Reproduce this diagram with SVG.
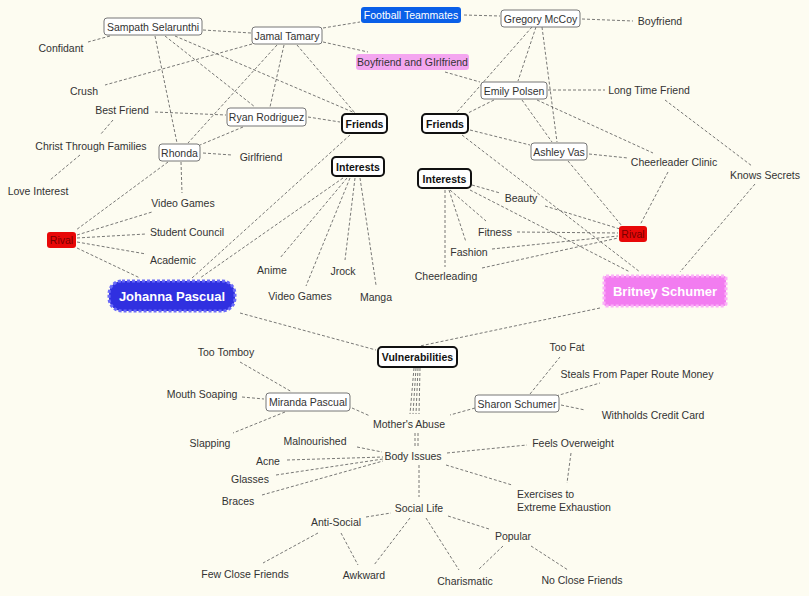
<svg xmlns="http://www.w3.org/2000/svg" width="809" height="596" viewBox="0 0 809 596">
<style>
text{font-family:"Liberation Sans",Arial,sans-serif;font-size:10.5px;fill:#333;text-anchor:middle;dominant-baseline:central}
.n{fill:#fff;stroke:#777;stroke-width:1}
.b{fill:#fff;stroke:#111;stroke-width:2}
.bt{font-weight:bold;fill:#111}
#edges line{stroke:#555;stroke-width:0.8;stroke-dasharray:3,2;fill:none}
</style>
<rect width="809" height="596" fill="#fdfcf1"/>
<g id="edges">
<line x1="203" y1="30" x2="251" y2="33"/><line x1="110" y1="36" x2="88" y2="42"/>
<line x1="155" y1="36" x2="177" y2="143"/><line x1="165" y1="36" x2="255" y2="107"/>
<line x1="175" y1="36" x2="355" y2="113"/><line x1="323" y1="28" x2="360" y2="22"/>
<line x1="323" y1="42" x2="368" y2="52"/><line x1="252" y1="44" x2="105" y2="85"/>
<line x1="277" y1="45" x2="188" y2="143"/><line x1="284" y1="45" x2="270" y2="107"/>
<line x1="297" y1="45" x2="355" y2="113"/><line x1="464" y1="15" x2="500" y2="16"/>
<line x1="582" y1="19" x2="633" y2="21"/><line x1="536" y1="27" x2="518" y2="81"/>
<line x1="532" y1="27" x2="457" y2="112"/><line x1="542" y1="27" x2="557" y2="142"/>
<line x1="445" y1="72" x2="480" y2="82"/><line x1="548" y1="90" x2="605" y2="90"/>
<line x1="494" y1="100" x2="468" y2="113"/><line x1="522" y1="100" x2="552" y2="142"/>
<line x1="537" y1="100" x2="653" y2="153"/><line x1="665" y1="100" x2="752" y2="166"/>
<line x1="470" y1="130" x2="530" y2="145"/><line x1="462" y1="135" x2="640" y2="272"/>
<line x1="589" y1="154" x2="628" y2="158"/><line x1="568" y1="161" x2="622" y2="226"/>
<line x1="668" y1="172" x2="640" y2="225"/><line x1="755" y1="184" x2="680" y2="272"/>
<line x1="472" y1="185" x2="500" y2="193"/><line x1="450" y1="190" x2="486" y2="221"/>
<line x1="449" y1="190" x2="466" y2="242"/><line x1="445" y1="190" x2="445" y2="267"/>
<line x1="470" y1="190" x2="630" y2="272"/><line x1="545" y1="206" x2="620" y2="229"/>
<line x1="517" y1="232" x2="618" y2="233"/><line x1="492" y1="249" x2="618" y2="236"/>
<line x1="482" y1="268" x2="618" y2="238"/><line x1="308" y1="117" x2="340" y2="122"/>
<line x1="350" y1="135" x2="192" y2="278"/><line x1="155" y1="112" x2="226" y2="115"/>
<line x1="243" y1="127" x2="200" y2="145"/><line x1="203" y1="153" x2="232" y2="155"/>
<line x1="181" y1="162" x2="182" y2="193"/><line x1="168" y1="162" x2="76" y2="230"/>
<line x1="113" y1="120" x2="100" y2="135"/><line x1="80" y1="155" x2="50" y2="180"/>
<line x1="77" y1="235" x2="152" y2="212"/><line x1="77" y1="238" x2="146" y2="234"/>
<line x1="77" y1="242" x2="146" y2="254"/><line x1="77" y1="248" x2="140" y2="278"/>
<line x1="343" y1="178" x2="200" y2="278"/><line x1="347" y1="178" x2="280" y2="258"/>
<line x1="350" y1="178" x2="306" y2="286"/><line x1="355" y1="178" x2="345" y2="260"/>
<line x1="360" y1="178" x2="376" y2="285"/><line x1="240" y1="313" x2="376" y2="350"/>
<line x1="600" y1="308" x2="420" y2="346"/>
<line x1="414" y1="368" x2="410" y2="414"/><line x1="416" y1="368" x2="413" y2="414"/>
<line x1="418" y1="368" x2="416" y2="414"/><line x1="420" y1="368" x2="419" y2="414"/>
<line x1="415" y1="433" x2="415" y2="447"/><line x1="418" y1="433" x2="418" y2="447"/>
<line x1="240" y1="362" x2="292" y2="392"/><line x1="242" y1="397" x2="264" y2="399"/>
<line x1="285" y1="412" x2="233" y2="433"/><line x1="352" y1="408" x2="370" y2="416"/>
<line x1="475" y1="408" x2="450" y2="415"/><line x1="530" y1="394" x2="560" y2="357"/>
<line x1="556" y1="396" x2="600" y2="383"/><line x1="561" y1="405" x2="585" y2="410"/>
<line x1="357" y1="447" x2="382" y2="452"/><line x1="287" y1="460" x2="383" y2="457"/>
<line x1="276" y1="475" x2="383" y2="459"/><line x1="262" y1="495" x2="383" y2="461"/>
<line x1="447" y1="453" x2="527" y2="445"/><line x1="446" y1="465" x2="512" y2="485"/>
<line x1="571" y1="453" x2="567" y2="483"/><line x1="419" y1="465" x2="419" y2="497"/>
<line x1="366" y1="517" x2="391" y2="513"/><line x1="318" y1="533" x2="263" y2="563"/>
<line x1="341" y1="533" x2="358" y2="565"/><line x1="410" y1="518" x2="374" y2="565"/>
<line x1="426" y1="518" x2="459" y2="570"/><line x1="448" y1="516" x2="489" y2="529"/>
<line x1="503" y1="546" x2="478" y2="570"/><line x1="531" y1="546" x2="568" y2="570"/>
</g>
<g id="sampath"><rect class="n" x="104" y="18" width="98" height="17" rx="3"/><text x="153" y="26.5">Sampath Selarunthi</text></g>
<g id="jamal"><rect class="n" x="252" y="27" width="70" height="17" rx="3"/><text x="287" y="35.5">Jamal Tamary</text></g>
<g id="football"><rect x="361" y="7" width="100" height="16" rx="3" fill="#0a5fe8"/><text x="411" y="15" style="fill:#fff">Football Teammates</text></g>
<g id="gregory"><rect class="n" x="501" y="10" width="79" height="17" rx="3"/><text x="540.5" y="18.5">Gregory McCoy</text></g>
<g id="boyfriend"><text x="660" y="21">Boyfriend</text></g>
<g id="bgf"><rect x="356" y="54" width="113" height="16" rx="3" fill="#f4a6f0"/><text x="412.5" y="62">Boyfriend and GIrlfriend</text></g>
<g id="emily"><rect class="n" x="481" y="82" width="66" height="17" rx="3"/><text x="514" y="90.5">Emily Polsen</text></g>
<g id="ltf"><text x="649" y="90">Long Time Friend</text></g>
<g id="friendsL"><rect class="b" x="342" y="114" width="45" height="19" rx="4"/><text class="bt" x="364.5" y="123.5">Friends</text></g>
<g id="friendsR"><rect class="b" x="422" y="114" width="46" height="19" rx="4"/><text class="bt" x="445" y="123.5">Friends</text></g>
<g id="ryan"><rect class="n" x="227" y="108" width="79" height="18" rx="3"/><text x="266.5" y="117">Ryan Rodriguez</text></g>
<g id="rhonda"><rect class="n" x="159" y="144" width="41" height="17" rx="3"/><text x="179.5" y="152.5">Rhonda</text></g>
<g id="girlfriend"><text x="261" y="157">Girlfriend</text></g>
<g id="bestfriend"><text x="122" y="110">Best Friend</text></g>
<g id="crush"><text x="84" y="91">Crush</text></g>
<g id="confidant"><text x="61" y="48">Confidant</text></g>
<g id="christ"><text x="91" y="146">Christ Through Families</text></g>
<g id="love"><text x="38" y="191">Love Interest</text></g>
<g id="interestsL"><rect class="b" x="332" y="157" width="52" height="19" rx="4"/><text class="bt" x="358" y="166.5">Interests</text></g>
<g id="ashley"><rect class="n" x="531" y="143" width="56" height="17" rx="3"/><text x="559" y="151.5">Ashley Vas</text></g>
<g id="clinic"><text x="674" y="162">Cheerleader Clinic</text></g>
<g id="secrets"><text x="765" y="175">Knows Secrets</text></g>
<g id="interestsR"><rect class="b" x="418" y="169" width="53" height="19" rx="4"/><text class="bt" x="444.5" y="178.5">Interests</text></g>
<g id="beauty"><text x="521" y="198">Beauty</text></g>
<g id="fitness"><text x="495" y="232">Fitness</text></g>
<g id="fashion"><text x="469" y="252">Fashion</text></g>
<g id="cheer"><text x="446" y="276">Cheerleading</text></g>
<g id="rivalR"><rect x="619" y="226" width="28" height="16" rx="3" fill="#e80808"/><text x="633" y="234" style="fill:#700">Rival</text></g>
<g id="britney"><rect x="604" y="276" width="122" height="30" rx="2" fill="#f27cf0" stroke="#fbb0f8" stroke-width="3" stroke-dasharray="3,2"/><text x="665" y="291" style="fill:#fff;font-weight:bold;font-size:13px">Britney Schumer</text></g>
<g id="vg1"><text x="183" y="203">Video Games</text></g>
<g id="council"><text x="187" y="232">Student Council</text></g>
<g id="academic"><text x="173" y="260">Academic</text></g>
<g id="rivalL"><rect x="47" y="232" width="29" height="16" rx="3" fill="#e80808"/><text x="61.5" y="240" style="fill:#700">Rival</text></g>
<g id="johanna"><rect x="109" y="281" width="126" height="30" rx="13" fill="#3030e0" stroke="#6a6af8" stroke-width="3" stroke-dasharray="3,2"/><text x="172" y="296" style="fill:#fff;font-weight:bold;font-size:13px">Johanna Pascual</text></g>
<g id="anime"><text x="272" y="270">Anime</text></g>
<g id="vg2"><text x="300" y="296">Video Games</text></g>
<g id="jrock"><text x="343" y="271">Jrock</text></g>
<g id="manga"><text x="376" y="297">Manga</text></g>
<g id="vuln"><rect class="b" x="378" y="347" width="79" height="20" rx="4"/><text class="bt" x="417.5" y="357">Vulnerabilities</text></g>
<g id="tomboy"><text x="226" y="352">Too Tomboy</text></g>
<g id="soaping"><text x="202" y="394">Mouth Soaping</text></g>
<g id="miranda"><rect class="n" x="266" y="393" width="84" height="18" rx="3"/><text x="308" y="402">Miranda Pascual</text></g>
<g id="slapping"><text x="210" y="443">Slapping</text></g>
<g id="mother"><text x="409" y="424">Mother's Abuse</text></g>
<g id="toofat"><text x="567" y="347">Too Fat</text></g>
<g id="steals"><text x="637" y="374">Steals From Paper Route Money</text></g>
<g id="sharon"><rect class="n" x="475" y="395" width="84" height="17" rx="3"/><text x="517" y="403.5">Sharon Schumer</text></g>
<g id="withholds"><text x="653" y="415">Withholds Credit Card</text></g>
<g id="malnourished"><text x="315" y="441">Malnourished</text></g>
<g id="body"><text x="413" y="456">Body Issues</text></g>
<g id="overweight"><text x="573" y="443">Feels Overweight</text></g>
<g id="acne"><text x="268" y="461">Acne</text></g>
<g id="glasses"><text x="250" y="479">Glasses</text></g>
<g id="braces"><text x="238" y="501">Braces</text></g>
<g id="exercise"><text x="517" y="494" style="text-anchor:start">Exercises to</text><text x="517" y="507" style="text-anchor:start">Extreme Exhaustion</text></g>
<g id="social"><text x="419" y="508">Social Life</text></g>
<g id="antisocial"><text x="336" y="522">Anti-Social</text></g>
<g id="popular"><text x="513" y="536">Popular</text></g>
<g id="few"><text x="245" y="574">Few Close Friends</text></g>
<g id="awkward"><text x="364" y="575">Awkward</text></g>
<g id="charismatic"><text x="465" y="581">Charismatic</text></g>
<g id="noclose"><text x="582" y="580">No Close Friends</text></g>
</svg>
